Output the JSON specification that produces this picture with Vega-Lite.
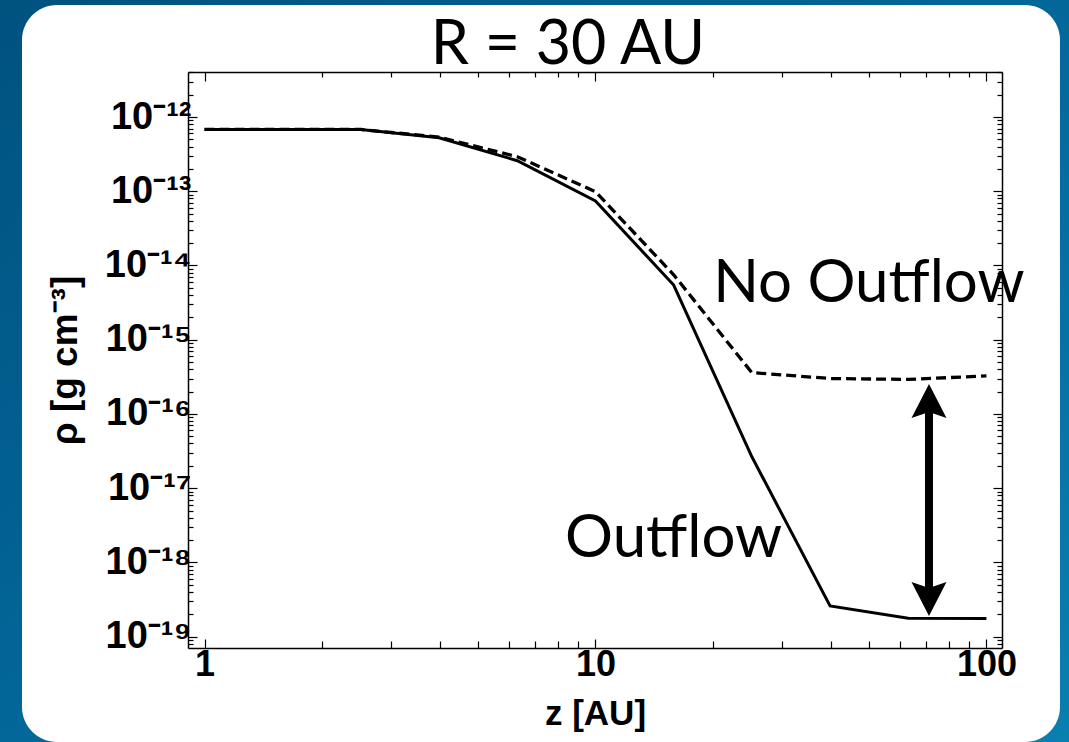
{
  "$schema": "https://vega.github.io/schema/vega-lite/v6.json",
  "width": 814,
  "height": 576,
  "autosize": {"type": "none"},
  "padding": {"left": 188, "top": 72, "right": 67, "bottom": 94},
  "background": "#02628e",
  "config": {
    "view": {"stroke": null},
    "axis": {"domainColor": "black", "domainWidth": 1.5, "tickColor": "black", "tickWidth": 1.2, "grid": false, "labelOverlap": false, "labelFlush": false, "labelBound": false}
  },
  "datasets": {
    "profiles": [
      {"z": 1, "rho": 6.8e-13, "model": "Outflow"},
      {"z": 1.585, "rho": 6.8e-13, "model": "Outflow"},
      {"z": 2.512, "rho": 6.8e-13, "model": "Outflow"},
      {"z": 3.981, "rho": 5.26e-13, "model": "Outflow"},
      {"z": 6.31, "rho": 2.58e-13, "model": "Outflow"},
      {"z": 10, "rho": 7.4e-14, "model": "Outflow"},
      {"z": 15.85, "rho": 5.45e-15, "model": "Outflow"},
      {"z": 25.12, "rho": 2.65e-17, "model": "Outflow"},
      {"z": 39.81, "rho": 2.59e-19, "model": "Outflow"},
      {"z": 63.1, "rho": 1.77e-19, "model": "Outflow"},
      {"z": 100, "rho": 1.75e-19, "model": "Outflow"},
      {"z": 1, "rho": 6.8e-13, "model": "No Outflow"},
      {"z": 1.585, "rho": 6.8e-13, "model": "No Outflow"},
      {"z": 2.512, "rho": 6.8e-13, "model": "No Outflow"},
      {"z": 3.981, "rho": 5.35e-13, "model": "No Outflow"},
      {"z": 6.31, "rho": 2.92e-13, "model": "No Outflow"},
      {"z": 10, "rho": 9.86e-14, "model": "No Outflow"},
      {"z": 15.85, "rho": 7.5e-15, "model": "No Outflow"},
      {"z": 25.12, "rho": 3.6e-16, "model": "No Outflow"},
      {"z": 39.81, "rho": 3.0e-16, "model": "No Outflow"},
      {"z": 63.1, "rho": 2.92e-16, "model": "No Outflow"},
      {"z": 100, "rho": 3.25e-16, "model": "No Outflow"}
    ],
    "labels": [
      {"z": 20, "rho": 3.22e-15, "text": "No Outflow"},
      {"z": 8.36, "rho": 1.18e-18, "text": "Outflow"}
    ],
    "heading": [
      {"z": 8.505, "rho": 5.2e-12, "text": "R = 30 AU"}
    ],
    "arrow": [
      {"z": 71.3, "top": 2.53e-16, "bottom": 1.9e-19}
    ],
    "slide": [
      {"x1": 0.2999, "x2": 162.6, "y1": 3.77e-11, "y2": 3.0e-21}
    ],
    "panel": [
      {"x1": 0.3413, "x2": 154.2, "y1": 3.225e-11, "y2": 3.81e-21}
    ]
  },
  "layer": [
    {
      "data": {"name": "slide"},
      "mark": {"type": "rect", "clip": false, "color": {"gradient": "linear", "x1": 0, "y1": 0, "x2": 1, "y2": 1, "stops": [{"offset": 0, "color": "#00527f"}, {"offset": 0.5, "color": "#03679a"}, {"offset": 1, "color": "#0a80b0"}]}},
      "encoding": {
        "x": {"field": "x1", "type": "quantitative", "scale": {"type": "log", "domain": [0.9073, 109.6]}, "axis": null},
        "x2": {"field": "x2"},
        "y": {"field": "y1", "type": "quantitative", "scale": {"type": "log", "domain": [7.03e-20, 4.04e-12]}, "axis": null},
        "y2": {"field": "y2"}
      }
    },
    {
      "data": {"name": "panel"},
      "mark": {"type": "rect", "color": "white", "cornerRadius": 35, "clip": false},
      "encoding": {
        "x": {"field": "x1", "type": "quantitative", "scale": {"type": "log", "domain": [0.9073, 109.6]}, "axis": null},
        "x2": {"field": "x2"},
        "y": {"field": "y1", "type": "quantitative", "scale": {"type": "log", "domain": [7.03e-20, 4.04e-12]}, "axis": null},
        "y2": {"field": "y2"}
      }
    },
    {
      "data": {"name": "profiles"},
      "transform": [{"filter": "datum.model == 'Outflow'"}],
      "mark": {"type": "line", "color": "black", "strokeWidth": 3},
      "encoding": {
        "x": {"field": "z", "type": "quantitative", "scale": {"type": "log", "domain": [0.9073, 109.6]},
          "axis": {"orient": "bottom", "zindex": 3, "title": "z [AU]", "titleFont": "Liberation Sans", "titleFontSize": 35, "titleFontWeight": "bold", "titleColor": "black", "titlePadding": 12,
            "values": [1,2,3,4,5,6,7,8,9,10,20,30,40,50,60,70,80,90,100],
            "tickSize": {"condition": {"test": "datum.value == 1 || datum.value == 10 || datum.value == 100", "value": -9}, "value": -7},
            "labelExpr": "datum.value == 1 || datum.value == 10 || datum.value == 100 ? format(datum.value, 'd') : ''",
            "labelFont": "Liberation Sans", "labelFontSize": 36, "labelFontWeight": "bold", "labelColor": "black", "labelPadding": 8}},
        "y": {"field": "rho", "type": "quantitative", "scale": {"type": "log", "domain": [7.03e-20, 4.04e-12]},
          "axis": {"orient": "left", "zindex": 3, "title": "ρ [g cm⁻³]", "titleFont": "Liberation Sans", "titleFontSize": 37, "titleFontWeight": "bold", "titleColor": "black", "titlePadding": 20,
            "values": [8e-20,9e-20,1e-19,2e-19,3e-19,4e-19,5e-19,6e-19,7e-19,8e-19,9e-19,1e-18,2e-18,3e-18,4e-18,5e-18,6e-18,7e-18,8e-18,9e-18,1e-17,2e-17,3e-17,4e-17,5e-17,6e-17,7e-17,8e-17,9e-17,1e-16,2e-16,3e-16,4e-16,5e-16,6e-16,7e-16,8e-16,9e-16,1e-15,2e-15,3e-15,4e-15,5e-15,6e-15,7e-15,8e-15,9e-15,1e-14,2e-14,3e-14,4e-14,5e-14,6e-14,7e-14,8e-14,9e-14,1e-13,2e-13,3e-13,4e-13,5e-13,6e-13,7e-13,8e-13,9e-13,1e-12,2e-12,3e-12,4e-12],
            "tickSize": {"condition": {"test": "abs(log(datum.value)/LN10 - round(log(datum.value)/LN10)) < 0.001", "value": -9}, "value": -5},
            "labelExpr": "abs(log(datum.value)/LN10 - round(log(datum.value)/LN10)) < 0.001 ? '10⁻¹' + ['⁰','¹','²','³','⁴','⁵','⁶','⁷','⁸','⁹'][-round(log(datum.value)/LN10) - 10] : ''",
            "labelFont": "Liberation Sans", "labelFontSize": 38, "labelFontWeight": "bold", "labelColor": "black", "labelPadding": 6}}
      }
    },
    {
      "data": {"name": "profiles"},
      "transform": [{"filter": "datum.model == 'No Outflow'"}],
      "mark": {"type": "line", "color": "black", "strokeWidth": 3.3, "strokeDash": [10, 5]},
      "encoding": {
        "x": {"field": "z", "type": "quantitative", "scale": {"type": "log", "domain": [0.9073, 109.6]},
          "axis": {"orient": "top", "zindex": 3, "title": null, "labels": false,
            "values": [1,2,3,4,5,6,7,8,9,10,20,30,40,50,60,70,80,90,100],
            "tickSize": {"condition": {"test": "datum.value == 1 || datum.value == 10 || datum.value == 100", "value": -9}, "value": -5}}},
        "y": {"field": "rho", "type": "quantitative", "scale": {"type": "log", "domain": [7.03e-20, 4.04e-12]},
          "axis": {"orient": "right", "zindex": 3, "title": null, "labels": false,
            "values": [8e-20,9e-20,1e-19,2e-19,3e-19,4e-19,5e-19,6e-19,7e-19,8e-19,9e-19,1e-18,2e-18,3e-18,4e-18,5e-18,6e-18,7e-18,8e-18,9e-18,1e-17,2e-17,3e-17,4e-17,5e-17,6e-17,7e-17,8e-17,9e-17,1e-16,2e-16,3e-16,4e-16,5e-16,6e-16,7e-16,8e-16,9e-16,1e-15,2e-15,3e-15,4e-15,5e-15,6e-15,7e-15,8e-15,9e-15,1e-14,2e-14,3e-14,4e-14,5e-14,6e-14,7e-14,8e-14,9e-14,1e-13,2e-13,3e-13,4e-13,5e-13,6e-13,7e-13,8e-13,9e-13,1e-12,2e-12,3e-12,4e-12],
            "tickSize": {"condition": {"test": "abs(log(datum.value)/LN10 - round(log(datum.value)/LN10)) < 0.001", "value": -9}, "value": -5}}}
      }
    },
    {
      "data": {"name": "labels"},
      "mark": {"type": "text", "font": "Lato", "fontSize": 60, "align": "left", "baseline": "alphabetic", "color": "black"},
      "encoding": {
        "x": {"field": "z", "type": "quantitative", "scale": {"type": "log", "domain": [0.9073, 109.6]}, "axis": null},
        "y": {"field": "rho", "type": "quantitative", "scale": {"type": "log", "domain": [7.03e-20, 4.04e-12]}, "axis": null},
        "text": {"field": "text"}
      }
    },
    {
      "data": {"name": "heading"},
      "mark": {"type": "text", "font": "Lato", "fontSize": 61, "align": "center", "baseline": "alphabetic", "color": "black"},
      "encoding": {
        "x": {"field": "z", "type": "quantitative", "scale": {"type": "log", "domain": [0.9073, 109.6]}, "axis": null},
        "y": {"field": "rho", "type": "quantitative", "scale": {"type": "log", "domain": [7.03e-20, 4.04e-12]}, "axis": null},
        "text": {"field": "text"}
      }
    },
    {
      "data": {"name": "arrow"},
      "mark": {"type": "rule", "color": "black", "strokeWidth": 8, "yOffset": 20, "y2Offset": -20},
      "encoding": {
        "x": {"field": "z", "type": "quantitative", "scale": {"type": "log", "domain": [0.9073, 109.6]}, "axis": null},
        "y": {"field": "top", "type": "quantitative", "scale": {"type": "log", "domain": [7.03e-20, 4.04e-12]}, "axis": null},
        "y2": {"field": "bottom"}
      }
    },
    {
      "data": {"name": "arrow"},
      "mark": {"type": "point", "filled": true, "color": "black", "opacity": 1, "size": 1225, "shape": "M0,0L1,1.94L0,1.6L-1,1.94Z"},
      "encoding": {
        "x": {"field": "z", "type": "quantitative", "scale": {"type": "log", "domain": [0.9073, 109.6]}, "axis": null},
        "y": {"field": "top", "type": "quantitative", "scale": {"type": "log", "domain": [7.03e-20, 4.04e-12]}, "axis": null}
      }
    },
    {
      "data": {"name": "arrow"},
      "mark": {"type": "point", "filled": true, "color": "black", "opacity": 1, "size": 1225, "shape": "M0,0L1,-1.94L0,-1.6L-1,-1.94Z"},
      "encoding": {
        "x": {"field": "z", "type": "quantitative", "scale": {"type": "log", "domain": [0.9073, 109.6]}, "axis": null},
        "y": {"field": "bottom", "type": "quantitative", "scale": {"type": "log", "domain": [7.03e-20, 4.04e-12]}, "axis": null}
      }
    }
  ],
  "resolve": {"axis": {"x": "independent", "y": "independent"}}
}
